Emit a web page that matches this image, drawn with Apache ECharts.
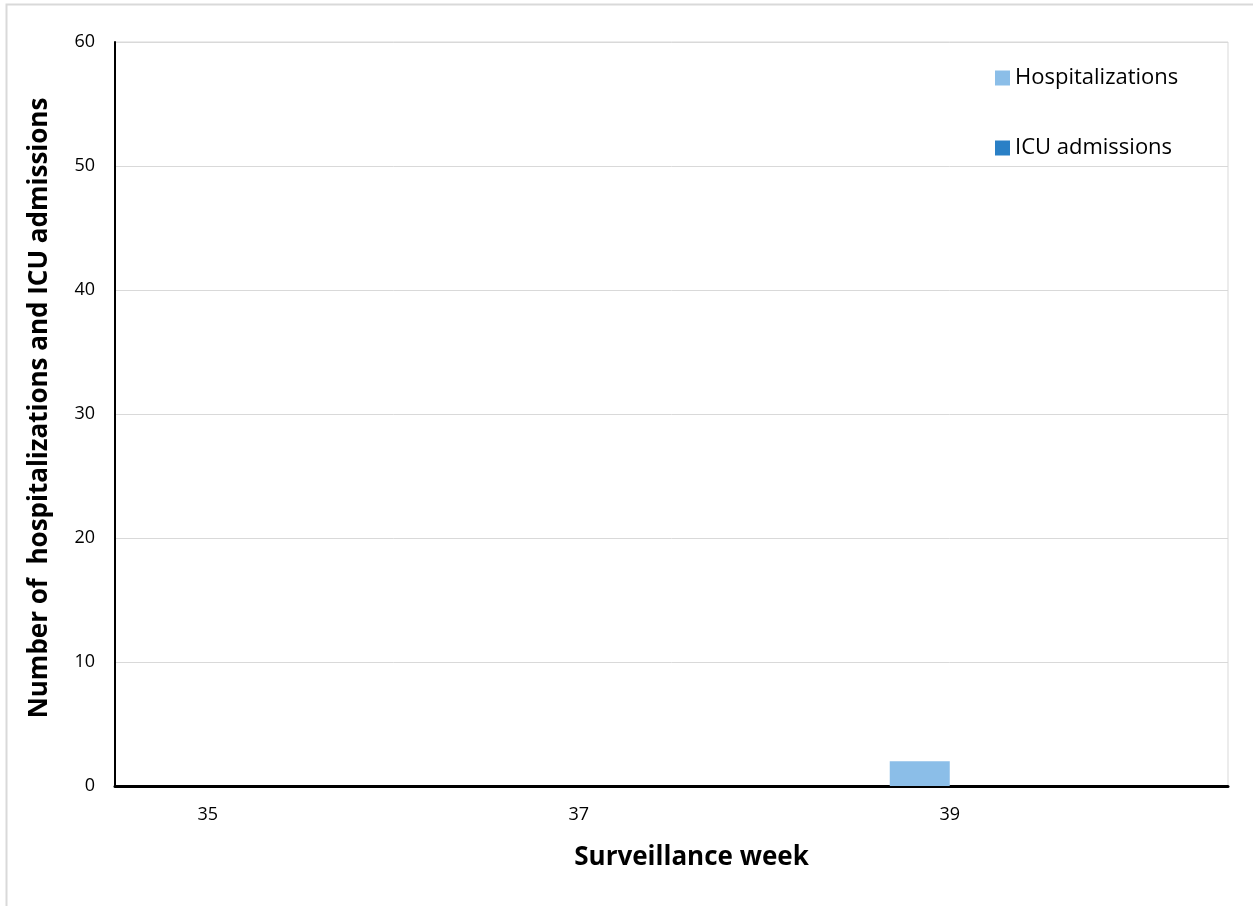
<!DOCTYPE html>
<html>
<head>
<meta charset="utf-8">
<script src="https://cdn.jsdelivr.net/npm/echarts@6/dist/echarts.min.js"></script>
<style>
  html, body { margin: 0; padding: 0; background: #fff; }
  #chart { width: 1253px; height: 906px; }
</style>
</head>
<body>
<div id="chart"></div>
<script>
// Surveillance weeks on the x axis
const weeks = ['35', '36', '37', '38', '39', '40'];
// Weekly counts per series
const hospitalizations = [0, 0, 0, 0, 2, 0];
const icuAdmissions = [0, 0, 0, 0, 0, 0];

const FONT = '"Open Sans", "Noto Sans", sans-serif';

const chart = echarts.init(document.getElementById('chart'), null, { renderer: 'canvas' });

chart.setOption({
  backgroundColor: '#ffffff',
  animation: false,
  textStyle: { fontFamily: FONT, color: '#000' },
  graphic: [{
    type: 'rect',
    shape: { x: 6.5, y: 4.5, width: 1400, height: 1000 },
    style: { fill: 'none', stroke: '#d9d9d9', lineWidth: 2 },
    silent: true,
    z: -10
  }],
  grid: {
    left: 115, right: 25, top: 42, bottom: 120,
    show: true, borderColor: '#d9d9d9', borderWidth: 1
  },
  legend: {
    orient: 'vertical',
    left: 990, top: 61,
    itemWidth: 15, itemHeight: 15, itemGap: 46,
    icon: 'rect',
    textStyle: { fontFamily: FONT, fontSize: 22, color: '#000', lineHeight: 24 },
    data: ['Hospitalizations', 'ICU admissions']
  },
  xAxis: {
    type: 'category',
    data: weeks,
    name: 'Surveillance week',
    nameLocation: 'middle',
    nameGap: 72,
    nameTextStyle: {
      fontFamily: FONT, fontSize: 26, fontWeight: 'bold', color: '#000',
      verticalAlign: 'middle', padding: [0, 0, 0, 40]
    },
    axisLine: { lineStyle: { color: '#000', width: 3 } },
    axisTick: { show: false },
    axisLabel: { interval: 1, fontFamily: FONT, fontSize: 18, color: '#000', margin: 20 },
    splitLine: { show: false }
  },
  yAxis: {
    type: 'value',
    min: 0, max: 60, interval: 10,
    name: 'Number of  hospitalizations and ICU admissions',
    nameLocation: 'middle',
    nameGap: 75,
    nameRotate: 90,
    nameTextStyle: {
      fontFamily: FONT, fontSize: 26, fontWeight: 'bold', color: '#000',
      verticalAlign: 'middle', padding: [0, 0, 0, 12]
    },
    axisLine: { show: true, lineStyle: { color: '#000', width: 2 } },
    axisTick: { show: false },
    axisLabel: { fontFamily: FONT, fontSize: 18, color: '#000', margin: 20 },
    splitLine: { lineStyle: { color: '#d9d9d9', width: 1 } }
  },
  series: [
    {
      name: 'Hospitalizations',
      type: 'bar',
      data: hospitalizations,
      barWidth: 60,
      barGap: '0%',
      itemStyle: { color: '#8BBEE8' }
    },
    {
      name: 'ICU admissions',
      type: 'bar',
      data: icuAdmissions,
      barWidth: 60,
      barGap: '0%',
      itemStyle: { color: '#2A80C6' }
    }
  ]
});
</script>
</body>
</html>
